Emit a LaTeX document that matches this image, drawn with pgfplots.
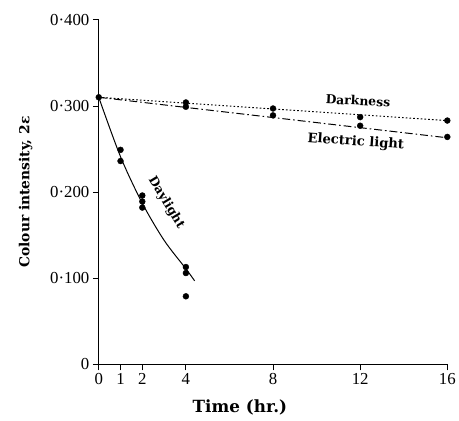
\documentclass[border=0pt]{standalone}
\usepackage{fontspec}
\setmainfont{Liberation Serif}
\newfontfamily\labelfont{DejaVu Serif}
\usepackage{pgfplots}
\pgfplotsset{compat=1.18}

\begin{document}
\begin{tikzpicture}
\begin{axis}[
  scale only axis, width=353pt, height=349pt,
  axis lines=left, axis line style={-, line width=0.9pt},
  xmin=0, xmax=16, ymin=0, ymax=0.4,
  xtick={0,1,2,4,8,12,16},
  ytick={0,0.1,0.2,0.3,0.4},
  yticklabels={0, 0·100, 0·200, 0·300, 0·400},
  tick align=outside, major tick length=6pt,
  tick style={line width=0.8pt, black},
  tick label style={font=\fontsize{17}{19}\selectfont},
  /pgf/number format/assume math mode=true,
  xlabel={Time (hr.)},
  ylabel={Colour intensity, 2ε},
  xlabel style={font=\fontsize{17}{19}\selectfont\labelfont\bfseries,
    at={(axis description cs:0.405,0)}, anchor=center, yshift=-44pt},
  ylabel style={font=\fontsize{14}{16}\selectfont\labelfont\bfseries,
    at={(axis description cs:0,0.5)}, anchor=center, yshift=74pt},
  clip=false,
]
% Daylight fitted curve and points
\addplot[line width=1pt, smooth] coordinates {
  (0,0.310) (1,0.241) (2,0.187) (3,0.144) (4,0.111) (4.4,0.097)};
\addplot[only marks, mark=*, mark size=3pt] coordinates {
  (0,0.310) (1,0.249) (1,0.236) (2,0.196) (2,0.189) (2,0.182)
  (4,0.113) (4,0.106) (4,0.079)};
% Darkness
\addplot[line width=1pt, dash pattern=on 1.6pt off 2.2pt] coordinates {(0,0.310) (16,0.283)};
\addplot[only marks, mark=*, mark size=3pt] coordinates {
  (4,0.304) (8,0.297) (12,0.287) (16,0.283)};
% Electric light
\addplot[line width=1pt, dash pattern=on 8pt off 3pt on 1.6pt off 3pt] coordinates {(0,0.310) (16,0.263)};
\addplot[only marks, mark=*, mark size=3pt] coordinates {
  (4,0.299) (8,0.289) (12,0.277) (16,0.264)};
\node[font=\fontsize{12.5}{14}\selectfont\labelfont\bfseries, rotate=-3] at (axis cs:11.9,0.306) {Darkness};
\node[font=\fontsize{13.3}{15}\selectfont\labelfont\bfseries, rotate=-4] at (axis cs:11.8,0.258) {Electric light};
\node[font=\fontsize{12.5}{14}\selectfont\labelfont\bfseries, rotate=-59] at (axis cs:3.1,0.188) {Daylight};
\end{axis}
\path (-100pt,-57pt) rectangle (359pt,369pt);
\end{tikzpicture}
\end{document}
